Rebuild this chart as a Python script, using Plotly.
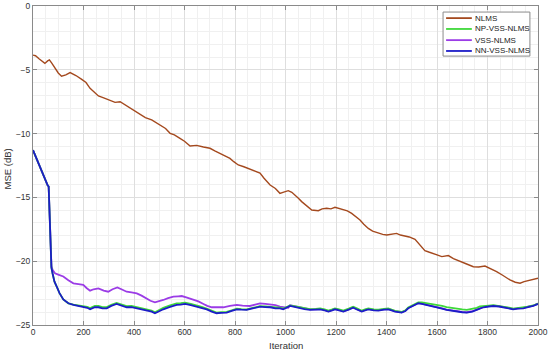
import plotly.graph_objects as go

# ---------------- data ----------------
nlms_it = [0, 10, 25, 47, 58, 65, 75, 87, 100, 113, 130, 147, 170, 193, 210, 226, 245, 259, 280,
           305, 325, 345, 365, 384, 405, 424, 445, 470, 490, 510, 525, 543, 560, 582, 600, 622,
           648, 675, 701, 720, 741, 760, 780, 795, 813, 835, 859, 880, 899, 915, 939, 960, 978,
           990, 1011, 1025, 1038, 1050, 1064, 1085, 1104, 1130, 1145, 1163, 1180, 1196, 1210,
           1229, 1245, 1262, 1280, 1295, 1310, 1328, 1345, 1368, 1385, 1401, 1420, 1440, 1455,
           1473, 1490, 1513, 1530, 1552, 1570, 1585, 1600, 1619, 1645, 1665, 1691, 1715, 1744,
           1765, 1790, 1810, 1836, 1860, 1889, 1910, 1929, 1945, 1962, 1985, 2000]
nlms_mse = [-3.85, -3.9, -4.15, -4.5, -4.3, -4.22, -4.5, -4.88, -5.25, -5.5, -5.4, -5.22, -5.45,
            -5.75, -6.0, -6.45, -6.8, -7.05, -7.2, -7.37, -7.55, -7.5, -7.75, -8.02, -8.3, -8.54,
            -8.75, -8.93, -9.2, -9.46, -9.6, -9.98, -10.1, -10.37, -10.6, -10.97, -10.92, -11.05,
            -11.15, -11.35, -11.55, -11.7, -11.94, -12.2, -12.46, -12.6, -12.8, -12.95, -13.1,
            -13.5, -14.03, -14.3, -14.68, -14.6, -14.47, -14.6, -14.81, -15.05, -15.33, -15.7,
            -15.99, -16.04, -15.9, -15.85, -15.9, -15.78, -15.85, -15.94, -16.05, -16.25, -16.5,
            -16.77, -17.1, -17.43, -17.65, -17.82, -17.9, -17.95, -17.9, -17.82, -17.95, -18.03,
            -18.1, -18.29, -18.7, -19.17, -19.3, -19.38, -19.5, -19.64, -19.56, -19.8, -20.04,
            -20.2, -20.43, -20.45, -20.38, -20.55, -20.82, -21.1, -21.47, -21.65, -21.73, -21.6,
            -21.53, -21.45, -21.34]

nn_it = [0, 10, 20, 30, 40, 50, 58, 62, 64, 66, 68, 70, 73, 78, 85, 94, 105, 120, 140, 160, 180,
         199, 215, 226, 245, 259, 275, 292, 310, 331, 350, 371, 390, 411, 430, 450, 470, 483, 500,
         516, 540, 569, 585, 602, 625, 648, 668, 688, 708, 727, 745, 767, 787, 807, 825, 846, 870,
         899, 920, 939, 960, 978, 991, 1018, 1040, 1057, 1075, 1097, 1120, 1137, 1155, 1170, 1185,
         1196, 1212, 1229, 1250, 1268, 1285, 1302, 1315, 1328, 1350, 1368, 1390, 1407, 1420, 1434,
         1460, 1475, 1486, 1505, 1526, 1540, 1559, 1580, 1599, 1620, 1638, 1660, 1678, 1700, 1718,
         1740, 1757, 1770, 1784, 1805, 1823, 1845, 1863, 1885, 1902, 1920, 1942, 1960, 1981, 2000]
nn_mse = [-11.3, -11.8, -12.3, -12.8, -13.3, -13.8, -14.05, -14.15, -15.5, -17.5, -19.0, -20.0,
          -20.5, -21.0, -21.6, -22.0, -22.5, -23.0, -23.3, -23.43, -23.5, -23.56, -23.65, -23.77,
          -23.6, -23.61, -23.7, -23.69, -23.5, -23.35, -23.5, -23.61, -23.6, -23.69, -23.72,
          -23.82, -23.95, -24.08, -23.9, -23.77, -23.6, -23.43, -23.4, -23.35, -23.45, -23.56,
          -23.65, -23.77, -23.95, -24.08, -24.05, -24.03, -23.9, -23.77, -23.8, -23.82, -23.7,
          -23.56, -23.6, -23.61, -23.7, -23.69, -23.77, -23.51, -23.6, -23.69, -23.75, -23.82,
          -23.8, -23.77, -23.85, -23.95, -23.85, -23.77, -23.85, -23.95, -23.8, -23.64, -23.8,
          -23.95, -23.85, -23.77, -23.85, -23.87, -23.8, -23.77, -23.85, -23.95, -24.03, -23.9,
          -23.69, -23.5, -23.3, -23.35, -23.43, -23.5, -23.61, -23.72, -23.82, -23.9, -23.95,
          -24.0, -24.03, -23.95, -23.82, -23.7, -23.61, -23.55, -23.51, -23.55, -23.61, -23.7,
          -23.77, -23.72, -23.69, -23.6, -23.51, -23.35]

np_it = [0, 10, 20, 30, 40, 50, 58, 62, 64, 66, 68, 70, 73, 78, 85, 94, 105, 120, 140, 160, 180,
         199, 215, 226, 245, 259, 275, 292, 310, 331, 350, 371, 390, 411, 430, 450, 470, 483, 500,
         516, 540, 569, 585, 602, 625, 648, 668, 688, 708, 727, 745, 767, 787, 807, 825, 846, 870,
         899, 920, 939, 960, 978, 991, 1018, 1040, 1057, 1075, 1097, 1120, 1137, 1155, 1170, 1185,
         1196, 1212, 1229, 1250, 1268, 1285, 1302, 1315, 1328, 1350, 1368, 1390, 1407, 1420, 1434,
         1460, 1475, 1486, 1505, 1526, 1540, 1559, 1580, 1599, 1620, 1638, 1660, 1678, 1700, 1718,
         1740, 1757, 1770, 1784, 1805, 1823, 1845, 1863, 1885, 1902, 1920, 1942, 1960, 1981, 2000]
np_mse = [-11.3, -11.8, -12.3, -12.8, -13.3, -13.8, -14.05, -14.15, -15.5, -17.5, -19.0, -20.0,
          -20.5, -21.0, -21.6, -22.0, -22.5, -23.0, -23.3, -23.4, -23.45, -23.5, -23.58, -23.68,
          -23.5, -23.5, -23.6, -23.6, -23.42, -23.28, -23.42, -23.52, -23.5, -23.6, -23.65,
          -23.75, -23.88, -24.0, -23.82, -23.66, -23.48, -23.3, -23.28, -23.25, -23.35, -23.46,
          -23.58, -23.72, -23.9, -24.03, -24.0, -23.98, -23.85, -23.72, -23.75, -23.77, -23.66,
          -23.52, -23.55, -23.57, -23.65, -23.64, -23.72, -23.46, -23.55, -23.62, -23.7, -23.76,
          -23.74, -23.7, -23.78, -23.88, -23.78, -23.7, -23.78, -23.88, -23.72, -23.56, -23.72,
          -23.88, -23.78, -23.7, -23.78, -23.8, -23.74, -23.7, -23.8, -23.9, -23.98, -23.85,
          -23.62, -23.42, -23.22, -23.22, -23.28, -23.32, -23.42, -23.5, -23.6, -23.68, -23.72,
          -23.78, -23.82, -23.75, -23.65, -23.55, -23.5, -23.48, -23.45, -23.5, -23.55, -23.64,
          -23.72, -23.68, -23.65, -23.56, -23.47, -23.32]

vss_it = [0, 10, 20, 30, 40, 50, 58, 62, 64, 66, 68, 70, 73, 78, 87, 100, 120, 140, 160, 180, 199,
          212, 226, 240, 259, 280, 298, 315, 334, 350, 371, 390, 411, 430, 450, 465, 483, 500, 516,
          535, 556, 575, 589, 610, 635, 655, 675, 690, 708, 730, 754, 780, 807, 830, 859, 880, 899,
          920, 939, 960, 978, 1011, 1018, 1040, 1057, 1075, 1097, 1120, 1137, 1155, 1170, 1185,
          1196, 1212, 1229, 1250, 1268, 1285, 1302, 1315, 1328, 1350, 1368, 1390, 1407, 1420, 1434,
          1460, 1475, 1486, 1505, 1526, 1540, 1559, 1580, 1599, 1620, 1638, 1660, 1678, 1700, 1718,
          1740, 1757, 1770, 1784, 1805, 1823, 1845, 1863, 1885, 1902, 1920, 1942, 1960, 1981, 2000]
vss_mse = [-11.3, -11.8, -12.3, -12.8, -13.3, -13.8, -14.05, -14.15, -15.5, -17.5, -19.0, -20.0,
           -20.4, -20.7, -20.95, -21.05, -21.2, -21.5, -21.73, -21.8, -21.86, -22.1, -22.31, -22.2,
           -22.13, -22.3, -22.39, -22.2, -22.05, -22.2, -22.39, -22.45, -22.52, -22.7, -22.92,
           -23.1, -23.22, -23.15, -23.04, -22.9, -22.78, -22.75, -22.73, -22.85, -22.99, -23.15,
           -23.35, -23.5, -23.61, -23.62, -23.61, -23.5, -23.43, -23.48, -23.51, -23.4, -23.3,
           -23.35, -23.38, -23.45, -23.56, -23.65, -23.45, -23.55, -23.6, -23.7, -23.78, -23.77,
           -23.74, -23.82, -23.92, -23.82, -23.74, -23.82, -23.92, -23.77, -23.61, -23.77, -23.92,
           -23.82, -23.74, -23.82, -23.84, -23.77, -23.74, -23.82, -23.92, -24.0, -23.87, -23.66,
           -23.47, -23.27, -23.32, -23.4, -23.47, -23.58, -23.69, -23.79, -23.87, -23.92, -23.97,
           -24.0, -23.92, -23.79, -23.67, -23.58, -23.52, -23.48, -23.52, -23.58, -23.67, -23.74,
           -23.69, -23.66, -23.57, -23.48, -23.32]

names = ["NLMS", "NP-VSS-NLMS", "VSS-NLMS", "NN-VSS-NLMS"]
colors = ["#A4491E", "#3FD83A", "#9B3CE6", "#1C1CC8"]

x_ticks = [0, 200, 400, 600, 800, 1000, 1200, 1400, 1600, 1800, 2000]
y_ticks = [-25, -20, -15, -10, -5, 0]
x_title = "Iteration"
y_title = "MSE (dB)"

# ---------------- figure ----------------
fig = go.Figure()
fig.add_trace(go.Scatter(x=nlms_it, y=nlms_mse, mode="lines", name=names[0],
                         line=dict(color=colors[0], width=1.4), showlegend=False))
fig.add_trace(go.Scatter(x=vss_it, y=vss_mse, mode="lines", name=names[2],
                         line=dict(color=colors[2], width=1.8), showlegend=False))
fig.add_trace(go.Scatter(x=np_it, y=np_mse, mode="lines", name=names[1],
                         line=dict(color=colors[1], width=1.8), showlegend=False))
fig.add_trace(go.Scatter(x=nn_it, y=nn_mse, mode="lines", name=names[3],
                         line=dict(color=colors[3], width=1.8), showlegend=False))

font_family = "Liberation Sans, Arial, sans-serif"
axis_common = dict(
    showline=True, linecolor="#8a8a8a", linewidth=1, mirror="ticks",
    ticks="inside", ticklen=4, tickcolor="#8a8a8a",
    showgrid=True, gridcolor="#dedede", gridwidth=1, zeroline=False,
    tickfont=dict(family=font_family, size=8.5, color="#333333"),
)

fig.update_xaxes(range=[0, 2000], tickvals=x_ticks, ticklabelstandoff=-1,
                 minor=dict(dtick=50, showgrid=True, gridcolor="#f0f0f0", ticks=""),
                 **axis_common)
fig.update_yaxes(range=[-25, 0], tickvals=y_ticks,
                 minor=dict(dtick=1, showgrid=True, gridcolor="#f0f0f0", ticks=""),
                 **axis_common)

# axis titles (placed like the reference)
fig.add_annotation(xref="paper", yref="paper", x=0.5, y=-0.063, text=x_title, showarrow=False,
                   xanchor="center", yanchor="middle",
                   font=dict(family=font_family, size=9.5, color="#333333"))
fig.add_annotation(xref="paper", yref="paper", x=-0.05, y=0.49, text=y_title, showarrow=False,
                   xanchor="center", yanchor="middle", textangle=-90,
                   font=dict(family=font_family, size=9.5, color="#333333"))

# ---------------- legend (box, line samples, labels) ----------------
lx0, lx1, ly0, ly1 = 0.812, 0.984, 0.843, 0.981
fig.add_shape(type="rect", xref="paper", yref="paper", x0=lx0, x1=lx1, y0=ly0, y1=ly1,
              line=dict(color="#8a8a8a", width=1), fillcolor="white", layer="above")
entry_y = [0.962, 0.928, 0.893, 0.859]
for name, col, ey in zip(names, colors, entry_y):
    fig.add_shape(type="line", xref="paper", yref="paper", x0=0.818, x1=0.869, y0=ey, y1=ey,
                  line=dict(color=col, width=1.8), layer="above")
    fig.add_annotation(xref="paper", yref="paper", x=0.872, y=ey, text=name, showarrow=False,
                       xanchor="left", yanchor="middle",
                       font=dict(family=font_family, size=8, color="#222222"))

fig.update_layout(
    width=550, height=353,
    margin=dict(l=33, r=12, t=6, b=28, autoexpand=False),
    paper_bgcolor="white", plot_bgcolor="white",
    showlegend=False,
)

fig.write_html("out.html", config={"displayModeBar": False},
               post_script="document.body.style.margin='0';document.body.style.overflow='hidden';")
